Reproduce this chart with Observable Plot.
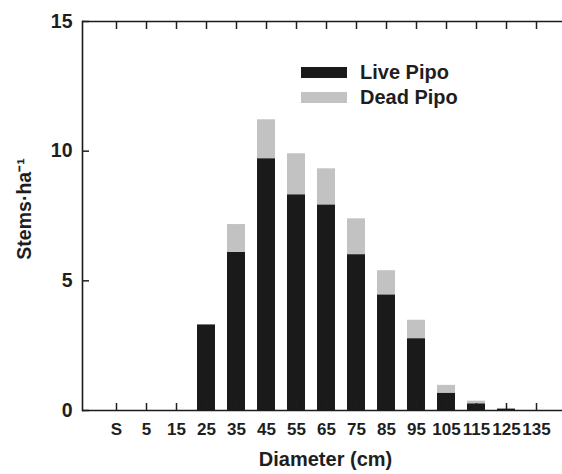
<!DOCTYPE html>
<html><head><meta charset="utf-8">
<script src="https://cdn.jsdelivr.net/npm/d3@7"></script>
<script src="https://cdn.jsdelivr.net/npm/@observablehq/plot@0.6"></script>
<style>
body{margin:0;background:#fff}
#wrap{position:relative;width:562px;height:474px}
#wrap svg{display:block}
.leg{position:absolute;left:301px;font-family:'Liberation Sans',Arial,sans-serif;font-size:20px;font-weight:bold;color:#1e1e1e;display:flex;align-items:center;height:20px}
.leg span.sw{display:inline-block;width:46px;height:11px;margin-right:13px}
</style>
</head><body><div id="wrap"></div>
<script>
const diameterClasses = ["S","5","15","25","35","45","55","65","75","85","95","105","115","125","135"];
const liveStems = [0,0,0,3.30,6.10,9.71,8.32,7.93,6.01,4.46,2.77,0.67,0.26,0.06,0];
const deadStems = [0,0,0,0,1.07,1.50,1.58,1.39,1.38,0.93,0.71,0.30,0.10,0.02,0];
const seriesNames = ["Live Pipo","Dead Pipo"];
const seriesColors = ["#1a1a1a","#c2c2c2"];
const yTicks = [0,5,10,15];
const yLabel = "Stems·ha⁻¹";
const xLabel = "Diameter (cm)";

const data = diameterClasses.flatMap((c,i)=>[
  {cls:c, status:seriesNames[0], stems:liveStems[i]},
  {cls:c, status:seriesNames[1], stems:deadStems[i]}
]);

const font = "'Liberation Sans', Arial, sans-serif";
const chart = Plot.plot({
  width:562, height:474,
  marginLeft:82, marginRight:0, marginTop:21, marginBottom:64,
  style:{fontFamily:font, fontWeight:"bold", background:"#fff", color:"#1e1e1e"},
  x:{type:"band", domain:diameterClasses, range:[97.5,554.5], paddingInner:0.41, paddingOuter:0.205, label:null},
  y:{domain:[0,15], label:null},
  color:{domain:seriesNames, range:seriesColors},
  marks:[
    Plot.barY(data,{x:"cls", y:"stems", fill:"status"}),
    Plot.ruleY([0,15],{stroke:"#1a1a1a", strokeWidth:1.6}),
    Plot.frame({anchor:"left", stroke:"#1a1a1a", strokeWidth:1.6}),
    Plot.axisX(diameterClasses,{anchor:"bottom", tickSize:-7, tickPadding:19, fontSize:17, fontWeight:"bold", strokeWidth:1.5, label:null}),
    Plot.axisX(diameterClasses,{anchor:"top", tickSize:-7, tickFormat:()=>"", strokeWidth:1.5, label:null}),
    Plot.axisY(yTicks,{anchor:"left", tickSize:-7, tickPadding:17, fontSize:19.5, fontWeight:"bold", strokeWidth:1.5, label:null}),
    Plot.text([yLabel],{frameAnchor:"left", textAnchor:"middle", rotate:-90, dx:-58, dy:-7, fontSize:19.5, fontWeight:"bold", fill:"#1e1e1e"}),
    Plot.text([xLabel],{frameAnchor:"bottom", dx:3, dy:55, fontSize:20, fontWeight:"bold", fill:"#1e1e1e"})
  ]
});
const wrap = document.getElementById("wrap");
wrap.appendChild(chart);
const legTops = [62, 87];
seriesNames.forEach((n,i)=>{
  const d = document.createElement("div");
  d.className = "leg";
  d.style.top = legTops[i] + "px";
  const sw = document.createElement("span");
  sw.className = "sw";
  sw.style.background = seriesColors[i];
  d.appendChild(sw);
  d.appendChild(document.createTextNode(n));
  wrap.appendChild(d);
});
</script>
</body></html>
